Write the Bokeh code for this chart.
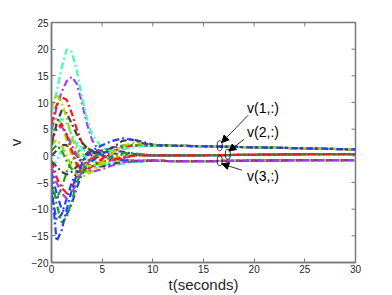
from bokeh.plotting import figure
from bokeh.models import Range1d, FixedTicker, Arrow, NormalHead
from bokeh.core.properties import value
from bokeh.embed import file_html
from bokeh.resources import INLINE

# time samples (seconds)
t = [0, 0.5, 1, 1.5, 2, 2.5, 3, 3.5, 4, 5, 6, 7, 8, 9, 10, 12, 15, 20, 25, 30]

# colours used by the agents
c_blue = "#2040ff"
c_green = "#1fa01f"
c_red = "#ff1414"
c_aqua = "#3cffb4"
c_purple = "#a03cff"
c_yg = "#b4d200"
c_dark = "#404040"

# v(3,:) group
g3_red = [-1, -4, -6, -7, -6, -4, -2, -1, -0.5, 0, -0.3, -0.7, -0.9, -1.0, -0.9, -1.0, -1.0, -0.9, -0.8, -0.8]
g3_purple = [3, 5, 5.5, 4, 2, 0, -1.5, -2.5, -3, -2.5, -1.8, -1.2, -1.0, -0.9, -0.9, -1.0, -1.0, -0.9, -0.8, -0.8]
g3_blue = [-7, -12, -11, -8, -5, -3, -1, 0, 0.5, 0.3, -0.3, -0.8, -1.0, -1.0, -0.9, -1.0, -1.0, -0.9, -0.8, -0.8]
g3_green = [-6, -8, -6, -3, -1, 0.5, 1.5, 1.5, 1, 0, -0.6, -0.9, -1.0, -1.0, -0.9, -1.0, -1.0, -0.9, -0.8, -0.8]
g3_aqua = [-2, -1, 1, 2.5, 3, 2.5, 1.5, 0.5, -0.5, -1.5, -1.8, -1.5, -1.2, -1.0, -0.9, -1.0, -1.0, -0.9, -0.8, -0.8]
g3_yg = [5, 7, 6, 3, 0, -2, -3, -3, -2.5, -1.5, -1.0, -0.8, -0.8, -0.9, -0.9, -1.0, -1.0, -0.9, -0.8, -0.8]
g3_dark = [0, 1, 2, 2, 1, 0, -1, -1.5, -2, -2, -1.5, -1.2, -1.0, -0.9, -0.9, -1.0, -1.0, -0.9, -0.8, -0.8]

# v(2,:) group
g2_purple = [5, 9, 12, 14, 14.8, 13.5, 10, 6, 3, 0, -0.8, -0.5, 0, 0.2, 0.1, 0.1, 0.1, 0.2, 0.3, 0.3]
g2_red = [6, 9.5, 11, 10.5, 8, 5, 2.5, 1, 0, -1, -0.8, -0.3, 0, 0.1, 0.1, 0.1, 0.1, 0.2, 0.3, 0.3]
g2_blue = [-3, -7, -10, -11, -9, -6, -3.5, -2, -1, 0.5, 1, 0.8, 0.4, 0.2, 0.1, 0.1, 0.1, 0.2, 0.3, 0.3]
g2_green = [1, 2, 1, -1, -2.5, -3, -3, -2.5, -2, -1, 0, 0.5, 0.5, 0.3, 0.1, 0.1, 0.1, 0.2, 0.3, 0.3]
g2_aqua = [4, 6, 7, 6, 4, 2, 0.5, -0.5, -1, -1.5, -1, -0.3, 0.1, 0.2, 0.1, 0.1, 0.1, 0.2, 0.3, 0.3]
g2_yg = [2, 3, 2, 0, -2, -3.5, -4, -3.5, -3, -1.5, -0.5, 0, 0.2, 0.2, 0.1, 0.1, 0.1, 0.2, 0.3, 0.3]
g2_dark = [-1, -2, -3, -3.5, -3, -2, -0.5, 0.5, 1, 1, 0.5, 0.2, 0.1, 0.1, 0.1, 0.1, 0.1, 0.2, 0.3, 0.3]

# v(1,:) group
g1_aqua = [8, 12, 16.5, 20, 19.5, 16, 11, 7, 4, 1.5, 0.8, 1.2, 1.6, 1.8, 1.9, 1.9, 1.8, 1.6, 1.4, 1.2]
g1_yg = [9, 11.5, 10, 7, 3.5, 1, -1, -1.8, -2, -1.2, 0.5, 1.8, 2.4, 2.3, 2.0, 1.9, 1.8, 1.6, 1.4, 1.2]
g1_dark = [2, 6, 8.5, 8, 6, 4, 2.5, 1.5, 0.8, 0.5, 1.5, 2.8, 3.1, 2.6, 2.1, 1.9, 1.8, 1.6, 1.4, 1.2]
g1_green = [-4, -9, -12.5, -11.5, -8.5, -5, -3, -1.5, -0.5, 0.8, 1.5, 1.9, 2.0, 2.0, 1.9, 1.9, 1.8, 1.6, 1.4, 1.2]
g1_red = [3, 5, 6, 4, 1, -1.5, -2.5, -2.5, -2, -0.5, 0.8, 1.5, 1.9, 2.0, 1.9, 1.9, 1.8, 1.6, 1.4, 1.2]
g1_purple = [-2, -5, -7, -8, -7, -5, -3, -1.5, -0.5, 1.0, 1.6, 1.8, 1.9, 1.9, 1.9, 1.9, 1.8, 1.6, 1.4, 1.2]
g1_blue = [-5, -16, -14, -10, -6.5, -3.5, -1.5, 0, 1, 2, 2.8, 3.3, 3, 2.4, 2.0, 1.9, 1.8, 1.6, 1.4, 1.2]

series = [
    (g3_aqua, c_aqua), (g3_green, c_green), (g3_dark, c_dark), (g3_yg, c_yg),
    (g3_red, c_red), (g3_blue, c_blue), (g3_purple, c_purple),
    (g2_dark, c_dark), (g2_aqua, c_aqua), (g2_yg, c_yg), (g2_purple, c_purple),
    (g2_blue, c_blue), (g2_green, c_green), (g2_red, c_red),
    (g1_purple, c_purple), (g1_red, c_red), (g1_green, c_green), (g1_dark, c_dark),
    (g1_aqua, c_aqua), (g1_yg, c_yg), (g1_blue, c_blue),
]

x_ticks = [0, 5, 10, 15, 20, 25, 30]
y_ticks = [-20, -15, -10, -5, 0, 5, 10, 15, 20, 25]
x_min, x_max = 0, 30
y_min, y_max = -20, 25

# annotation texts and anchor points
ann_text = ["v(1,:)", "v(2,:)", "v(3,:)"]
ann_tx = [19.3, 19.3, 19.3]
ann_ty = [9.0, 4.5, -3.8]
arr_x0 = [19.4, 19.0, 18.8]
arr_y0 = [7.6, 3.1, -2.7]
arr_x1 = [16.8, 17.5, 16.8]
arr_y1 = [2.5, 0.9, -1.5]
ell_x = [16.6, 17.4, 16.6]
ell_y = [1.9, 0.3, -0.9]

FONT = "Liberation Sans"
AX = "#7a7a7a"
TXT = "#262626"

FW, FH = 304, 241
p = figure(width=392, height=295, output_backend="svg", toolbar_location=None,
           x_range=Range1d(x_min, x_max), y_range=Range1d(y_min, y_max),
           min_border_left=51, min_border_right=37, min_border_top=22, min_border_bottom=32)
p.grid.visible = False
p.outline_line_color = AX
p.outline_line_width = 1.5
p.background_fill_color = "white"
p.border_fill_color = "white"

for ax, ticks in ((p.xaxis[0], x_ticks), (p.yaxis[0], y_ticks)):
    ax.ticker = FixedTicker(ticks=ticks)
    ax.major_tick_in = 4
    ax.major_tick_out = 0
    ax.minor_tick_line_color = None
    ax.axis_line_color = AX
    ax.axis_line_width = 1.5
    ax.major_tick_line_color = AX
    ax.major_label_text_font = FONT
    ax.major_label_text_font_size = "10px"
    ax.major_label_text_color = TXT
    ax.axis_label_text_font = FONT
    ax.axis_label_text_font_style = "normal"
    ax.axis_label_text_color = TXT

p.yaxis.major_label_overrides = {v: (("\u2212" + str(-v)) if v < 0 else str(v)) for v in y_ticks}
p.xaxis.major_label_standoff = 2
p.yaxis.major_label_standoff = 3
p.yaxis.axis_label = "v"
p.yaxis.axis_label_text_font_size = "15px"
p.yaxis.axis_label_standoff = 5
p.xaxis.axis_label = "t(seconds)"
p.xaxis.axis_label_text_font_size = "15px"
p.xaxis.axis_label_standoff = 0

# mirrored inward ticks on top and right edges
tick_dy = 4 * (y_max - y_min) / FH
tick_dx = 4 * (x_max - x_min) / FW
p.segment(x0=x_ticks, y0=[y_max] * len(x_ticks), x1=x_ticks, y1=[y_max - tick_dy] * len(x_ticks),
          line_color=AX, line_width=1)
p.segment(x0=[x_max] * len(y_ticks), y0=y_ticks, x1=[x_max - tick_dx] * len(y_ticks), y1=y_ticks,
          line_color=AX, line_width=1)

for vals, col in series:
    p.line(t, vals, line_color=col, line_width=2.2, line_dash="7 3 2 3")

p.ellipse(x=ell_x, y=ell_y, width=0.5, height=1.9, fill_color=None, line_color="black", line_width=0.8)
for i in range(3):
    p.add_layout(Arrow(end=NormalHead(size=7, fill_color="black", line_color="black"),
                       x_start=arr_x0[i], y_start=arr_y0[i], x_end=arr_x1[i], y_end=arr_y1[i],
                       line_color="black", line_width=0.8))
p.text(x=ann_tx, y=ann_ty, text=ann_text, text_font=value(FONT), text_font_size="14px",
       text_color="black", text_baseline="middle", text_align="left")

open("out.html", "w").write(file_html(p, INLINE))
